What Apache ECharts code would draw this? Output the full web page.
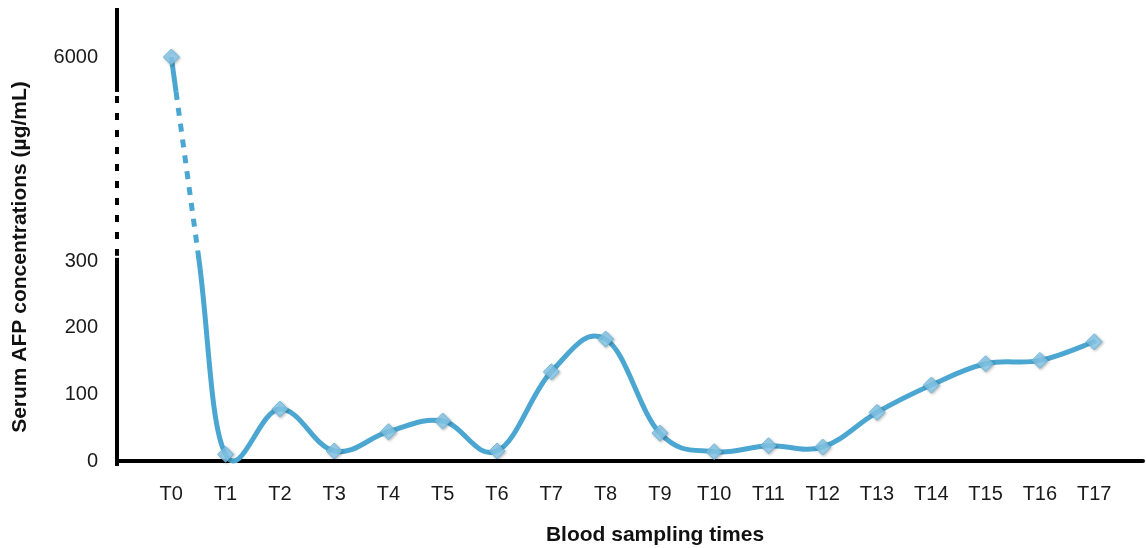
<!DOCTYPE html>
<html>
<head>
<meta charset="utf-8">
<script src="https://cdn.jsdelivr.net/npm/echarts@6/dist/echarts.min.js"></script>
<style>
html,body{margin:0;padding:0;background:#fff;}
#chart{width:1146px;height:548px;}
</style>
</head>
<body>
<div id="chart"></div>
<script>
// ---- data ----
const categories = ['T0','T1','T2','T3','T4','T5','T6','T7','T8','T9','T10','T11','T12','T13','T14','T15','T16','T17'];
const afpValues = [6000, 10, 78, 15, 44, 60, 15, 134, 183, 42, 14, 23, 21, 73, 114, 146, 151, 179];
const yTickValues = [0, 100, 200, 300, 6000];
const xAxisTitle = 'Blood sampling times';
const yAxisTitle = 'Serum AFP concentrations (\u00b5g/mL)';

// ---- broken-axis scale ----
const LINEAR_TOP = 300;          // values up to here are drawn linearly
const COMPRESS = 306.4 / 5700;   // compression of the range above the break
const BREAK_LOW = 305;           // display units where the broken part starts
const BREAK_HIGH = 554;          // display units where the broken part ends
const Y_MAX = 680;
function toDisplay(v){ return v <= LINEAR_TOP ? v : LINEAR_TOP + (v - LINEAR_TOP) * COMPRESS; }

const disp = afpValues.map(toDisplay);
const yTickDisplay = yTickValues.map(toDisplay);
// where the T0->T1 segment crosses the break limits
function xAt(d){ return (disp[0] - d) / (disp[0] - disp[1]); }
const xHigh = xAt(BREAK_HIGH), xLow = xAt(BREAK_LOW);

const mainData = [[xLow, BREAK_LOW]].concat(disp.slice(1).map((d,i)=>[i+1, d]));
const markerData = disp.map((d,i)=>[i, d]);

const LINE_COLOR = '#4ba7d1';
const FONT = "'Liberation Sans', Arial, sans-serif";
const TENSION = 0.19;

// smooth (Catmull-Rom style) path through the library-converted points
function renderSmooth(params, api){
  if (params.dataIndex !== 0) return null;
  const pts = mainData.map(p => api.coord(p));
  const prev0 = api.coord([0, disp[0]]);
  let d = 'M' + pts[0][0] + ',' + pts[0][1];
  for (let i = 0; i < pts.length - 1; i++){
    const p0 = i === 0 ? prev0 : pts[i - 1];
    const p1 = pts[i], p2 = pts[i + 1];
    const p3 = i + 2 < pts.length ? pts[i + 2] : p2;
    const c1x = p1[0] + (p2[0] - p0[0]) * TENSION, c1y = p1[1] + (p2[1] - p0[1]) * TENSION;
    const c2x = p2[0] - (p3[0] - p1[0]) * TENSION, c2y = p2[1] - (p3[1] - p1[1]) * TENSION;
    d += 'C' + c1x + ',' + c1y + ',' + c2x + ',' + c2y + ',' + p2[0] + ',' + p2[1];
  }
  return {type: 'path', shape: {pathData: d},
          style: {fill: 'none', stroke: LINE_COLOR, lineWidth: 5, lineCap: 'round', lineJoin: 'round'}};
}

const chart = echarts.init(document.getElementById('chart'));
chart.setOption({
  animation: false,
  backgroundColor: '#ffffff',
  grid: {left: 117, right: 0, top: 8, bottom: 87, containLabel: false},
  xAxis: {
    type: 'value', min: -1, max: 17.9, interval: 1,
    axisLine: {show: true, lineStyle: {color: '#000', width: 4}},
    axisTick: {show: false},
    splitLine: {show: false},
    axisLabel: {
      margin: 23, fontSize: 20, color: '#1a1a1a', fontFamily: FONT,
      showMinLabel: true, showMaxLabel: true,
      formatter: function(v){ return (Number.isInteger(v) && categories[v]) ? categories[v] : ''; }
    }
  },
  yAxis: {
    type: 'value', min: 0, max: Y_MAX,
    axisLine: {show: false},
    splitLine: {show: false},
    axisTick: {show: true, customValues: [0], length: 5, lineStyle: {color: '#000', width: 2}},
    axisLabel: {
      customValues: yTickDisplay, margin: 19, fontSize: 20, color: '#1a1a1a', fontFamily: FONT,
      formatter: function(v){
        let best = 0;
        yTickDisplay.forEach((d,i)=>{ if (Math.abs(d - v) < Math.abs(yTickDisplay[best] - v)) best = i; });
        return String(yTickValues[best]);
      }
    }
  },
  series: [
    {type: 'line', data: [[0, disp[0]], [xHigh, BREAK_HIGH]], symbol: 'none',
     lineStyle: {color: LINE_COLOR, width: 5}, z: 2},
    {type: 'line', data: [[xHigh, BREAK_HIGH], [xLow, BREAK_LOW]], symbol: 'none',
     lineStyle: {color: LINE_COLOR, width: 5, type: [8, 8]}, z: 2},
    {type: 'custom', data: mainData, renderItem: renderSmooth, clip: false, z: 2},
    {type: 'scatter', data: markerData, symbol: 'diamond', symbolSize: 16,
     itemStyle: {color: '#8ccff2', borderColor: '#5fb2dc', borderWidth: 1,
       shadowColor: 'rgba(0,0,0,0.35)', shadowBlur: 3, shadowOffsetX: 1, shadowOffsetY: 1}, z: 4}
  ]
});

// y axis line with dashed break, and axis titles
function px(x, y){ return chart.convertToPixel({gridIndex: 0}, [x, y]); }
const ax = px(-1, 0)[0];
const pTop = px(-1, Y_MAX), pHigh = px(-1, BREAK_HIGH), pLow = px(-1, BREAK_LOW), pZero = px(-1, 0);
chart.setOption({
  graphic: [
    {type: 'line', z: 10, shape: {x1: ax, y1: pTop[1], x2: ax, y2: pHigh[1]}, style: {stroke: '#000', lineWidth: 4}},
    {type: 'line', z: 10, shape: {x1: ax, y1: pHigh[1] + 4, x2: ax, y2: pLow[1] - 2}, style: {stroke: '#000', lineWidth: 4, lineDash: [7, 10]}},
    {type: 'line', z: 10, shape: {x1: ax, y1: pLow[1], x2: ax, y2: pZero[1] + 5}, style: {stroke: '#000', lineWidth: 4}},
    {type: 'text', z: 10, x: 655, y: 535,
     style: {text: xAxisTitle, font: "bold 21px " + FONT, fill: '#111', align: 'center', verticalAlign: 'middle'}},
    {type: 'text', z: 10, x: 20, y: 257, rotation: Math.PI / 2,
     style: {text: yAxisTitle, font: "bold 21px " + FONT, fill: '#111', align: 'center', verticalAlign: 'middle'}}
  ]
});
</script>
</body>
</html>
